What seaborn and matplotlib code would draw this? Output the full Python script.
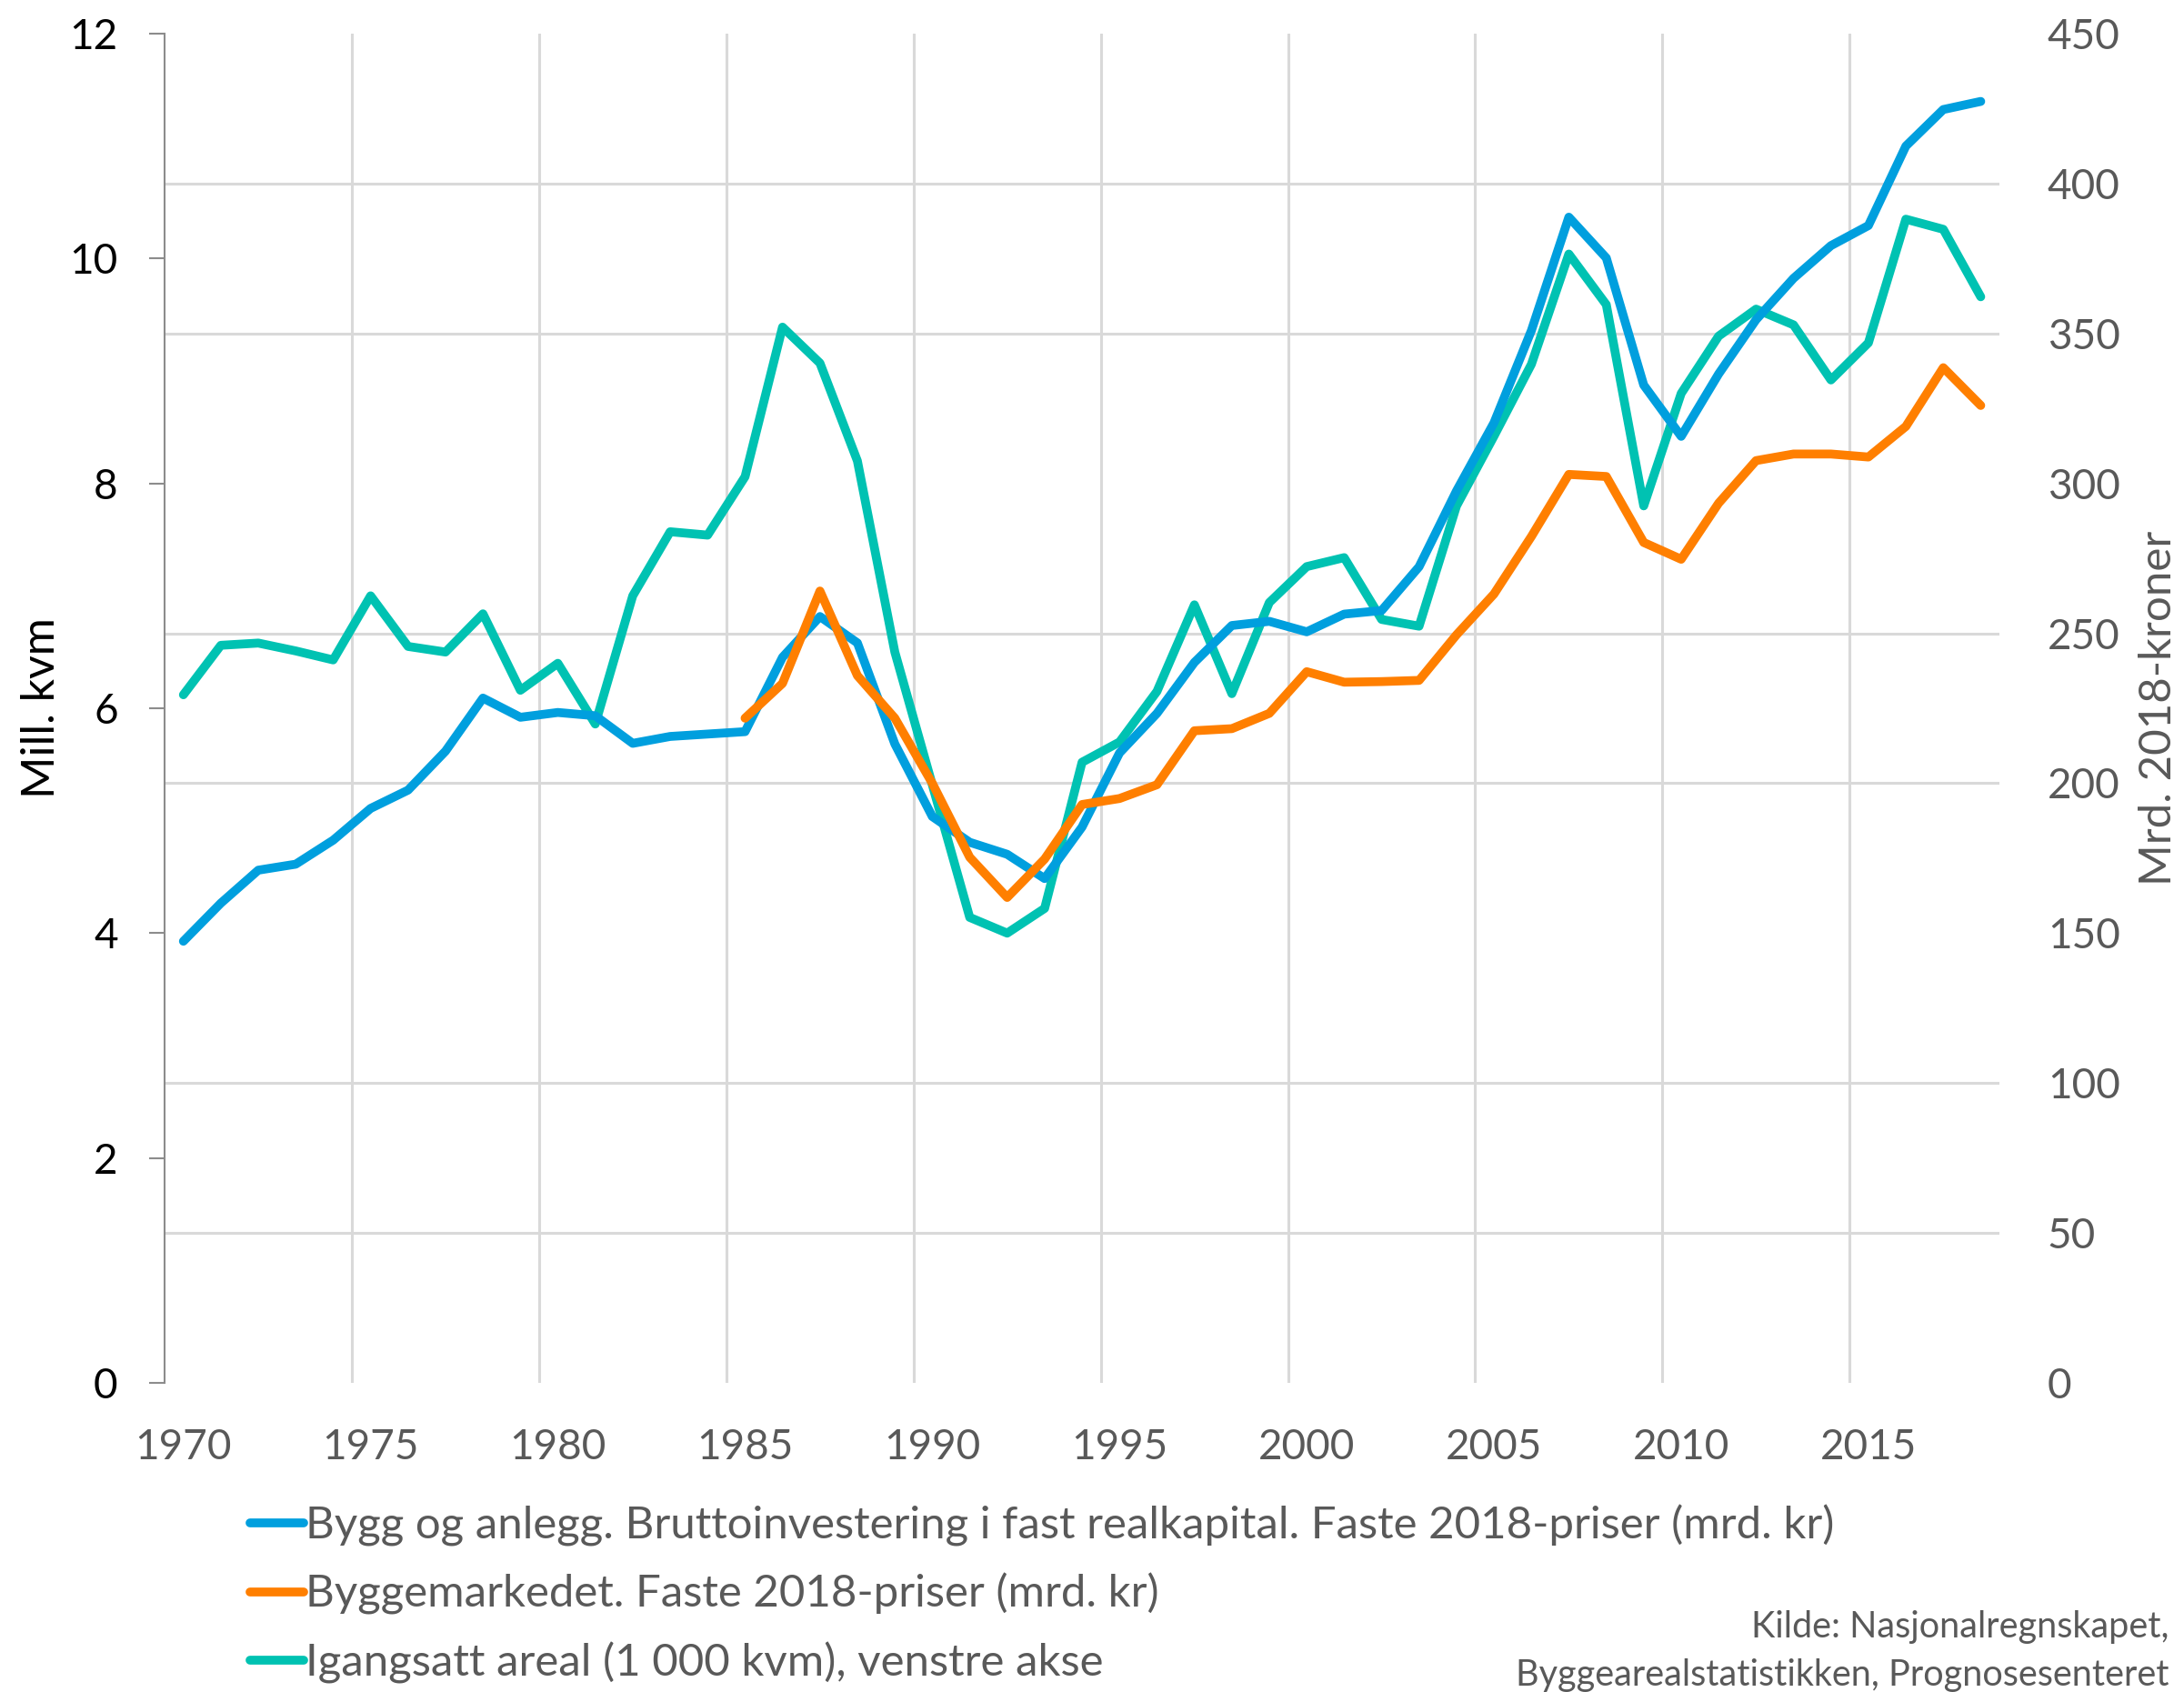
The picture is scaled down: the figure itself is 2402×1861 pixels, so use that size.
import matplotlib
matplotlib.use('Agg')
import matplotlib.pyplot as plt
from matplotlib.ticker import FixedLocator
from matplotlib.lines import Line2D
import pandas as pd
import seaborn as sns

years = list(range(1970, 2019))

# Igangsatt areal, mill. kvm (venstre akse)
igangsatt = [6.12, 6.56, 6.58, 6.51, 6.43, 7.00, 6.55, 6.50, 6.84, 6.16,
             6.40, 5.86, 7.00, 7.57, 7.54, 8.06, 9.39, 9.07, 8.20, 6.50,
             5.32, 4.14, 4.00, 4.22, 5.52, 5.70, 6.15, 6.92, 6.13, 6.94,
             7.26, 7.34, 6.79, 6.73, 7.80, 8.42, 9.06, 10.04, 9.59, 7.80,
             8.80, 9.31, 9.55, 9.41, 8.92, 9.25, 10.35, 10.26, 9.66]

# Bygg og anlegg, bruttoinvestering, mrd. 2018-kr (hoyre akse)
bygg_anlegg = [147.3, 160.0, 171.0, 173.0, 181.0, 191.6, 197.7, 210.7, 228.4, 222.0,
               223.6, 222.5, 213.3, 215.6, 216.4, 217.2, 242.0, 255.6, 246.8, 213.1,
               188.9, 180.3, 176.3, 168.2, 185.4, 210.1, 223.3, 240.3, 252.6, 254.0,
               250.5, 256.4, 257.6, 272.2, 297.5, 320.2, 351.0, 388.8, 375.2, 332.8,
               315.7, 336.5, 354.6, 368.4, 379.3, 386.0, 412.5, 424.7, 427.4]

# Byggemarkedet, mrd. 2018-kr (hoyre akse), fra 1985
byggemarked_years = list(range(1985, 2019))
byggemarked = [221.7, 233.3, 264.1, 235.9, 221.7, 200.0, 175.3, 161.9, 174.7, 192.9,
               194.9, 199.5, 217.5, 218.2, 223.3, 237.2, 233.7, 233.9, 234.3, 249.5,
               263.1, 282.3, 303.0, 302.3, 280.3, 274.7, 293.4, 307.6, 309.8, 309.8,
               308.8, 319.0, 338.6, 326.0]

labels = ['Bygg og anlegg. Bruttoinvestering i fast realkapital. Faste 2018-priser (mrd. kr)',
          'Byggemarkedet. Faste 2018-priser (mrd. kr)',
          'Igangsatt areal (1 000 kvm), venstre akse']
colors = ['#009FDE', '#FF7F00', '#00C2B2']

sns.set_style('white')
plt.rcParams['font.family'] = ['Lato', 'DejaVu Sans']

grey = '#595959'
fs = 33
lw = 7

fig = plt.figure(figsize=(24.02, 18.61), dpi=100)
ax = fig.add_axes([0.0754, 0.1827, 0.8401, 0.7974])
ax2 = ax.twinx()

df_left = pd.DataFrame({'year': years, 'value': igangsatt})
df_blue = pd.DataFrame({'year': years, 'value': bygg_anlegg})
df_orange = pd.DataFrame({'year': byggemarked_years, 'value': byggemarked})

line_kw = dict(linewidth=lw, solid_capstyle='round', solid_joinstyle='round', legend=False)
sns.lineplot(data=df_left, x='year', y='value', ax=ax, color=colors[2], **line_kw)
sns.lineplot(data=df_blue, x='year', y='value', ax=ax2, color=colors[0], **line_kw)
sns.lineplot(data=df_orange, x='year', y='value', ax=ax2, color=colors[1], **line_kw)

ax.set_xlim(1969.5, 2018.5)
ax.set_ylim(0, 12)
ax2.set_ylim(0, 450)

# left axis
ax.set_yticks(range(0, 13, 2))
ax.yaxis.set_minor_locator(FixedLocator([v / 37.5 for v in range(0, 451, 50)]))
ax.set_xticks(range(1970, 2016, 5))
ax.xaxis.set_minor_locator(FixedLocator([y + 0.5 for y in range(1974, 2018, 5)]))
ax.grid(False)
ax.grid(which='minor', color='#D9D9D9', linewidth=2.2)
ax.tick_params(axis='y', which='major', length=12, width=1.5, color='#8C8C8C',
               labelsize=fs, labelcolor='black', pad=25, left=True)
ax.tick_params(axis='y', which='minor', length=0)
ax.tick_params(axis='x', which='both', length=0, labelsize=fs, labelcolor=grey, pad=36)
for s in ['top', 'right', 'bottom']:
    ax.spines[s].set_visible(False)
ax.spines['left'].set_color('#8C8C8C')
ax.spines['left'].set_linewidth(1.5)
ax.set_xlabel('')
ax.set_ylabel('Mill. kvm', fontsize=36, color='black', va='center')
ax.yaxis.set_label_coords(-0.0669, 0.5)

# right axis
ax2.set_yticks(range(0, 451, 50))
ax2.tick_params(axis='y', length=0, labelsize=fs, labelcolor=grey, pad=38)
for s in ax2.spines.values():
    s.set_visible(False)
ax2.grid(False)
ax2.set_ylabel('Mrd. 2018-kroner', fontsize=35.5, color=grey, va='center', rotation=90)
ax2.yaxis.set_label_coords(1.0865, 0.5)

handles = [Line2D([], [], color=c, linewidth=lw, solid_capstyle='round') for c in colors]
fig.legend(handles, labels, loc='upper left', bbox_to_anchor=(0.1145, 0.111),
           frameon=False, fontsize=35.4, labelcolor=grey, handlelength=1.2,
           handletextpad=0.05, labelspacing=0.6, borderpad=0, borderaxespad=0)

fig.text(0.993, 0.0382, 'Kilde: Nasjonalregnskapet,', ha='right', va='center',
         fontsize=28.5, color=grey)
fig.text(0.993, 0.0097, 'Byggearealstatistikken, Prognosesenteret', ha='right', va='center',
         fontsize=28.5, color=grey)

fig.savefig('out.png', dpi=100)
